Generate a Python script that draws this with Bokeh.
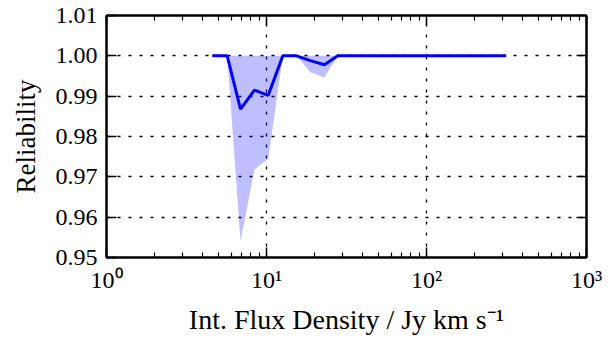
from bokeh.plotting import figure
from bokeh.models import (LogAxis, LinearAxis, FixedTicker, Range1d,
                          NumeralTickFormatter, CustomJSTickFormatter, ColumnDataSource)
from bokeh.embed import file_html
from bokeh.resources import INLINE

# Integrated flux density bins (Jy km/s) and measured reliability
flux = [4.58, 5.68, 6.88, 8.41, 10.25, 12.65, 15.4, 18.8, 23.0, 27.9, 315.0]
reliability = [1.0, 1.0, 0.9868, 0.9915, 0.9902, 1.0, 1.0, 0.9988, 0.9978, 1.0, 1.0]
# Uncertainty band around the reliability curve
band_low = [1.0, 1.0, 0.9541, 0.9719, 0.9744, 1.0, 1.0, 0.9959, 0.9946, 1.0, 1.0]
band_high = [1.0, 1.0, 1.0, 1.0, 1.0, 1.0, 1.0, 1.0, 1.0, 1.0, 1.0]

x_major = [1, 10, 100, 1000]
y_major = [0.95, 0.96, 0.97, 0.98, 0.99, 1.00, 1.01]

FONT = "Liberation Serif"

src = ColumnDataSource(dict(flux=flux, rel=reliability, lo=band_low, hi=band_high))

p = figure(width=614, height=345, x_axis_type="log",
           x_range=Range1d(1, 1000), y_range=Range1d(0.95, 1.01),
           output_backend="svg", toolbar_location=None,
           min_border_left=106, min_border_right=28,
           min_border_top=15, min_border_bottom=88)
p.background_fill_color = "white"
p.border_fill_color = "white"
p.outline_line_color = "black"
p.outline_line_width = 2

p.varea(x="flux", y1="lo", y2="hi", source=src, fill_color="#0000ff", fill_alpha=0.25)
p.line(x="flux", y="rel", source=src, line_color="#0000ff", line_width=3)

x_minor = [m * d for d in (1, 10, 100) for m in range(2, 10)]
xticker = FixedTicker(ticks=x_major, minor_ticks=x_minor)
yticker = FixedTicker(ticks=y_major)

sup_fmt = CustomJSTickFormatter(code="""
const sup = {"0": "\u2070", "1": "\u00b9", "2": "\u00b2", "3": "\u00b3", "-": "\u207b"};
const e = Math.round(Math.log10(tick));
return "10" + String(e).split("").map(c => sup[c]).join("");
""")

def style_axis(ax, show_labels=True, minor=True):
    ax.axis_line_color = "black"
    ax.axis_line_width = 2
    ax.major_tick_in = 10
    ax.major_tick_out = 0
    ax.major_tick_line_width = 1.5
    ax.major_tick_line_color = "black"
    ax.minor_tick_in = 5 if minor else 0
    ax.minor_tick_out = 0
    ax.minor_tick_line_width = 1.2
    ax.minor_tick_line_color = "black" if minor else None
    ax.major_label_text_font = FONT
    ax.major_label_text_color = "black"
    ax.axis_label_text_font = FONT
    ax.axis_label_text_font_style = "normal"
    ax.axis_label_text_color = "black"
    if not show_labels:
        ax.major_label_text_font_size = "1px"
        ax.major_label_text_alpha = 0
        ax.major_label_standoff = 0

xa = p.xaxis[0]
xa.ticker = xticker
xa.formatter = sup_fmt
style_axis(xa)
xa.major_label_text_font_size = "24px"
xa.major_label_standoff = 9
xa.axis_label = "Int. Flux Density / Jy km s\u207b\u00b9"
xa.axis_label_text_font_size = "28px"
xa.axis_label_standoff = 8

ya = p.yaxis[0]
ya.ticker = yticker
ya.formatter = NumeralTickFormatter(format="0.00")
style_axis(ya, minor=False)
ya.major_label_text_font_size = "24px"
ya.major_label_standoff = 9
ya.axis_label = "Reliability"
ya.axis_label_text_font_size = "27px"
ya.axis_label_standoff = 12

top = LogAxis(ticker=xticker)
style_axis(top, show_labels=False)
p.add_layout(top, "above")

right = LinearAxis(ticker=yticker)
style_axis(right, show_labels=False, minor=False)
p.add_layout(right, "right")

p.xgrid.ticker = xticker
p.ygrid.ticker = yticker
for g in (p.xgrid, p.ygrid):
    g.grid_line_color = "black"
    g.grid_line_dash = "3 8"
    g.grid_line_width = 1.3
    g.minor_grid_line_color = None

open("out.html", "w").write(file_html(p, INLINE))
